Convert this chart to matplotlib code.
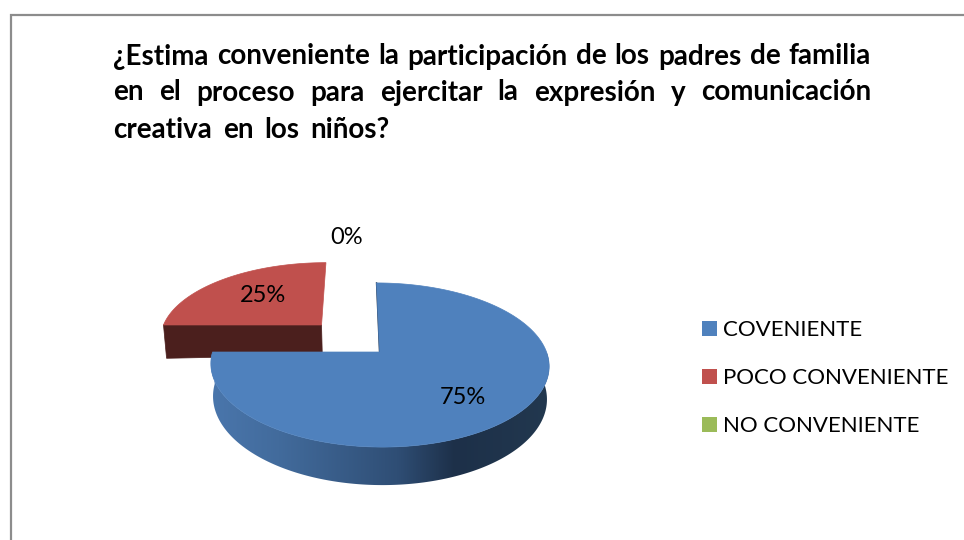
import numpy as np
import matplotlib
matplotlib.use("Agg")
import matplotlib.pyplot as plt
from matplotlib.colors import LinearSegmentedColormap
from matplotlib.patches import Polygon, Rectangle

# --- data ---
categories = ["COVENIENTE", "POCO CONVENIENTE", "NO CONVENIENTE"]
values = [75, 25, 0]
colors = ["#4F81BD", "#C0504D", "#9BBB59"]
title_lines = ["¿Estima conveniente la participación de los padres de familia",
               "en el proceso para ejercitar la expresión y comunicación",
               "creativa en los niños?"]

# --- projection of the tilted pie onto the page (pixels) ---
CX, CY, RX, RY, K, H, SHEAR, TAPER = 380.0, 352.0, 167.0, 80.0, 0.1585, 32.0, -3.0, 0.013
EXPLODE = [(0.0, 0.0), (-0.36, 0.357), (0.0, 0.0)]
LABEL_POS = [(463, 397), (263, 295), (347, 238)]


def project(u, v, z=0.0):
    s = 1.0 / (1.0 + K * v)
    x = RX * u * s * (1 - TAPER * z)
    return CX + x + SHEAR * (v + 0.16), CY - RY * v * s + z * H * s


def rim(a0, a1, off, z=0.0, n=200):
    t = np.radians(np.linspace(a0, a1, n))
    return project(np.sin(t) + off[0], np.cos(t) + off[1], z)


fig = plt.figure(figsize=(9.64, 5.4), dpi=100)
ax = fig.add_axes([0, 0, 1, 1])
ax.axis("off")

# frame of the chart area
ax.plot([10.5, 10.5, 966], [542, 15, 15], color="#8c8c8c", lw=1.6, solid_joinstyle="miter")

side_cmap = LinearSegmentedColormap.from_list(
    "side", [(0.0, "#4a76ac"), (0.2, "#426b9c"), (0.55, "#2f4e75"),
             (0.72, "#1d3049"), (1.0, "#22384f")])

edges = np.cumsum([0] + values) * 3.6

# red slice (behind), then blue slice
for i in [1, 0]:
    a0, a1 = edges[i], edges[i + 1]
    off = EXPLODE[i]
    apex = project(off[0], off[1])
    apex_low = project(off[0], off[1], 1.0)
    if i == 1:
        # front cut face of the pulled-out slice
        su, cv = np.sin(np.radians(a0)) + off[0], np.cos(np.radians(a0)) + off[1]
        ax.add_patch(Polygon([project(su, cv), apex, apex_low, project(su, cv, 1.1)], closed=True,
                             fc="#4b1f1d", ec="#4b1f1d", lw=0.5, zorder=2))
    else:
        # outer rim: a horizontal gradient clipped to the rim outline
        xt, yt = rim(90, a1, off)
        xb, yb = rim(90, a1, off, 1.0)
        outline = Polygon(np.r_[np.c_[xt, yt], np.c_[xb, yb][::-1]], closed=True,
                          transform=ax.transData, fc="none", ec="none")
        ax.add_patch(outline)
        grad = np.linspace(0, 1, 512)[None, :]
        x0, x1 = min(xt.min(), xb.min()), max(xt.max(), xb.max())
        im = ax.imshow(grad, cmap=side_cmap, aspect="auto", zorder=3,
                       extent=(x0, x1, 540, 0), interpolation="bilinear")
        im.set_clip_path(outline)
        # thin inner face beside the top edge
        top = project(off[0], off[1] + 1)
        ax.plot([top[0], apex[0]], [top[1], apex[1]], color="#1d3049", lw=1.0, zorder=3.5)
    xs, ys = rim(a0, a1, off)
    pts = np.r_[[apex], np.c_[xs, ys]]
    ax.add_patch(Polygon(pts, closed=True, fc=colors[i], ec=colors[i], lw=0.5, zorder=4))

ax.set_xlim(0, 964)
ax.set_ylim(540, 0)

# data labels
for v, (lx, ly) in zip(values, LABEL_POS):
    ax.text(lx, ly, f"{v}%", ha="center", va="center", fontsize=17,
            family="Lato", color="black", zorder=6)

# legend
LEG_Y = [328, 376, 424]
for name, col, y in zip(categories, colors, LEG_Y):
    ax.add_patch(Rectangle((702, y - 7.5), 15, 15, fc=col, ec="none", zorder=5))
    ax.text(723, y + 1.5, name, ha="left", va="center", fontsize=16, family="Lato",
            color="black", zorder=6)

# justified title
TITLE_L, TITLE_R = 113, 871
TITLE_Y = [54, 90, 127]
renderer = fig.canvas.get_renderer()
for li, (line, y) in enumerate(zip(title_lines, TITLE_Y)):
    words = line.split(" ")
    arts = [ax.text(0, y, w, ha="left", va="center_baseline", fontsize=20, family="Lato",
                    fontweight="bold", color="black", zorder=6) for w in words]
    widths = [a.get_window_extent(renderer).width for a in arts]
    if li < 2:
        gap = (TITLE_R - TITLE_L - sum(widths)) / (len(words) - 1)
    else:
        gap = 11.0
    x = TITLE_L
    for a, w in zip(arts, widths):
        a.set_x(x)
        x += w + gap

fig.savefig("out.png", dpi=100, facecolor="white")
